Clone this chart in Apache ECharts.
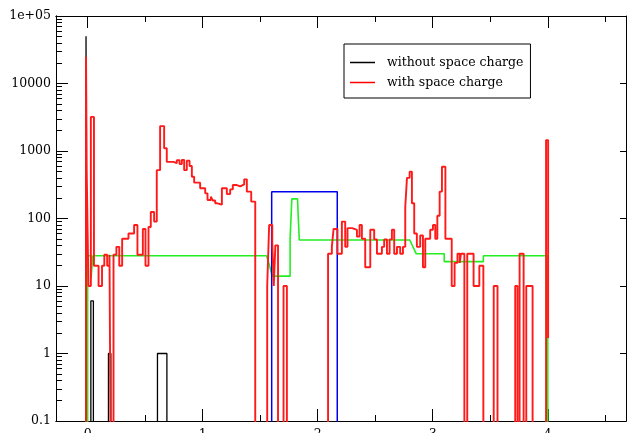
<!DOCTYPE html>
<html>
<head>
<meta charset="utf-8">
<script src="https://cdn.jsdelivr.net/npm/echarts@6/dist/echarts.min.js"></script>
<style>
  html, body { margin: 0; padding: 0; background: #fff; }
  #main { width: 627px; height: 433px; }
</style>
</head>
<body>
<div id="main"></div>
<script>
// axis ticks
var xMajor = [0, 1, 2, 3, 4];
var xMinor = [0.5, 1.5, 2.5, 3.5, 4.5];
var yMajor = [0.1, 1, 10, 100, 1000, 10000, 100000];
var yMinor = [];
[0.1, 1, 10, 100, 1000, 10000].forEach(function (d) {
	for (var k = 2; k <= 9; k++) yMinor.push(+(d * k).toPrecision(3));
});

// without space charge (bin edges, counts)
var blackEdges = [-0.014, -0.006, 0.028, 0.05, 0.181, 0.202, 0.607, 0.689];
var blackVals  = [50000, 0, 6, 0, 1, 0, 1];

// with space charge (bin edges, counts)
var redEdges = [-0.014, -0.008, 0.007, 0.028, 0.055, 0.095, 0.125, 0.145, 0.17, 0.19,
	0.205, 0.225, 0.25, 0.275, 0.3, 0.355, 0.404, 0.433, 0.48, 0.503,
	0.529, 0.549, 0.578, 0.601, 0.63, 0.665, 0.688, 0.746, 0.775, 0.799,
	0.819, 0.839, 0.862, 0.886, 0.906, 0.926, 0.978, 1.022, 1.042, 1.071,
	1.088, 1.109, 1.129, 1.167, 1.21, 1.239, 1.262, 1.297, 1.326, 1.361,
	1.384, 1.422, 1.457, 1.561, 1.578, 1.605, 1.618, 1.632, 1.655, 1.703,
	1.732, 2.09, 2.123, 2.138, 2.172, 2.21, 2.239, 2.259, 2.3, 2.341,
	2.364, 2.384, 2.413, 2.457, 2.491, 2.515, 2.558, 2.578, 2.602, 2.625,
	2.645, 2.665, 2.689, 2.717, 2.741, 2.761, 2.776, 2.799, 2.819, 2.839,
	2.862, 2.891, 2.915, 2.935, 2.978, 3.002, 3.022, 3.04, 3.06, 3.08,
	3.11, 3.165, 3.19, 3.215, 3.235, 3.245, 3.275, 3.3, 3.355, 3.405,
	3.44, 3.53, 3.563, 3.717, 3.737, 3.755, 3.79, 3.813, 3.868, 3.985,
	4.003, 4.006];
var redVals = [25000, 500, 10, 3200, 20, 10, 20, 29, 20, 29,
	0, 29, 38, 20, 50, 60, 80, 29, 70, 20,
	75, 125, 90, 520, 2340, 1100, 690, 660, 730, 640,
	740, 520, 720, 600, 415, 340, 280, 236, 188, 210,
	185, 168, 160, 280, 230, 270, 313, 300, 320, 380,
	250, 178, 0, 10, 80, 45, 10, 40, 0, 10,
	0, 30, 38, 70, 30, 90, 38, 72, 68, 54,
	80, 50, 19, 68, 49, 30, 38, 49, 30, 49,
	68, 30, 38, 30, 38, 146, 400, 494, 168, 60,
	38, 56, 19, 50, 68, 80, 50, 110, 250, 585,
	50, 10, 22, 30, 22, 30, 0, 30, 10, 20,
	0, 10, 0, 10, 0, 30, 0, 10, 0, 1450,
	1.7];

// green curve (vertices)
var greenX = [0, 0, 0.03, 0.03, 0.045, 0.045, 1.555, 1.575, 1.6, 1.61, 1.76, 1.76, 1.775, 1.775,
	1.825, 1.832, 1.84, 2.8, 2.857, 3.1, 3.1, 3.44, 3.44, 4.0, 4.0];
var greenY = [0, 28, 28, 13, 13, 28, 28, 22, 15, 14, 14, 50, 50, 195,
	195, 95, 48, 48, 30, 30, 23, 23, 28, 28, 0];

// blue box
var blueEdges = [1.6, 2.17];
var blueVals = [250];

var FLOOR = 0.001;
var FONT = 'DejaVu Serif';

function histData(edges, vals, dropEnd) {
	var pts = [[edges[0], FLOOR]];
	vals.forEach(function (v, i) {
		pts.push([edges[i], v > 0 ? v : FLOOR]);
	});
	var last = vals[vals.length - 1];
	pts.push([edges[vals.length], last > 0 ? last : FLOOR]);
	if (dropEnd) pts.push([edges[vals.length], FLOOR]);
	return pts;
}

var greenData = greenX.map(function (x, i) {
	return [x, greenY[i] > 0 ? greenY[i] : FLOOR];
});

var xBase = function (pos, ticks, len, labels) {
	return {
		type: 'value', min: -0.275, max: 4.68, position: pos,
		axisLine: { onZero: false, lineStyle: { color: '#000', width: 1 } },
		axisTick: { inside: true, length: len, customValues: ticks, lineStyle: { color: '#000' } },
		axisLabel: labels ? {
			customValues: ticks, margin: 7, color: '#000',
			fontFamily: FONT, fontSize: 12.5
		} : { show: false },
		splitLine: { show: false }
	};
};
var yBase = function (pos, ticks, len, labels) {
	return {
		type: 'log', logBase: 10, min: 0.1, max: 100000, position: pos,
		axisLine: { onZero: false, lineStyle: { color: '#000', width: 1 } },
		axisTick: { inside: true, length: len, customValues: ticks, lineStyle: { color: '#000' } },
		axisLabel: labels ? {
			customValues: ticks, margin: 5, color: '#000',
			fontFamily: FONT, fontSize: 12.5,
			formatter: function (v) { return v >= 100000 ? '1e+05' : String(v); }
		} : { show: false },
		splitLine: { show: false }
	};
};

var chart = echarts.init(document.getElementById('main'));
chart.setOption({
	animation: false,
	backgroundColor: '#fff',
	grid: { left: 56, right: 1, top: 16, bottom: 12, outerBoundsMode: 'none', containLabel: false },
	legend: {
		data: ['without space charge', 'with space charge'],
		orient: 'vertical', left: 344, top: 44,
		icon: 'rect', itemWidth: 25, itemHeight: 1.5, itemGap: 7,
		padding: [12, 7, 9, 6],
		borderColor: '#000', borderWidth: 1, backgroundColor: '#fff',
		selectedMode: false,
		textStyle: { fontFamily: FONT, fontSize: 12.5, color: '#000', padding: [0, 0, 0, 7] }
	},
	xAxis: [
		xBase('bottom', xMajor, 12, true),
		xBase('bottom', xMinor, 6, false),
		xBase('top', xMajor, 12, false),
		xBase('top', xMinor, 6, false)
	],
	yAxis: [
		yBase('left', yMajor, 12, true),
		yBase('left', yMinor, 6, false),
		yBase('right', yMajor, 6, false)
	],
	series: [
		{
			name: 'without space charge', type: 'line', step: 'end', symbol: 'none',
			color: '#000', lineStyle: { color: '#000', width: 1.3 },
			data: histData(blackEdges, blackVals, true)
		},
		{
			name: 'green', type: 'line', symbol: 'none',
			lineStyle: { color: '#22ee22', width: 1.6 },
			data: greenData
		},
		{
			name: 'blue', type: 'line', step: 'end', symbol: 'none',
			lineStyle: { color: '#0000ee', width: 1.5 },
			data: histData(blueEdges, blueVals, true)
		},
		{
			name: 'with space charge', type: 'line', step: 'end', symbol: 'none',
			color: '#ff0000', lineStyle: { color: '#ff1a1a', width: 1.9 },
			data: histData(redEdges, redVals, false)
		}
	]
});
</script>
</body>
</html>
